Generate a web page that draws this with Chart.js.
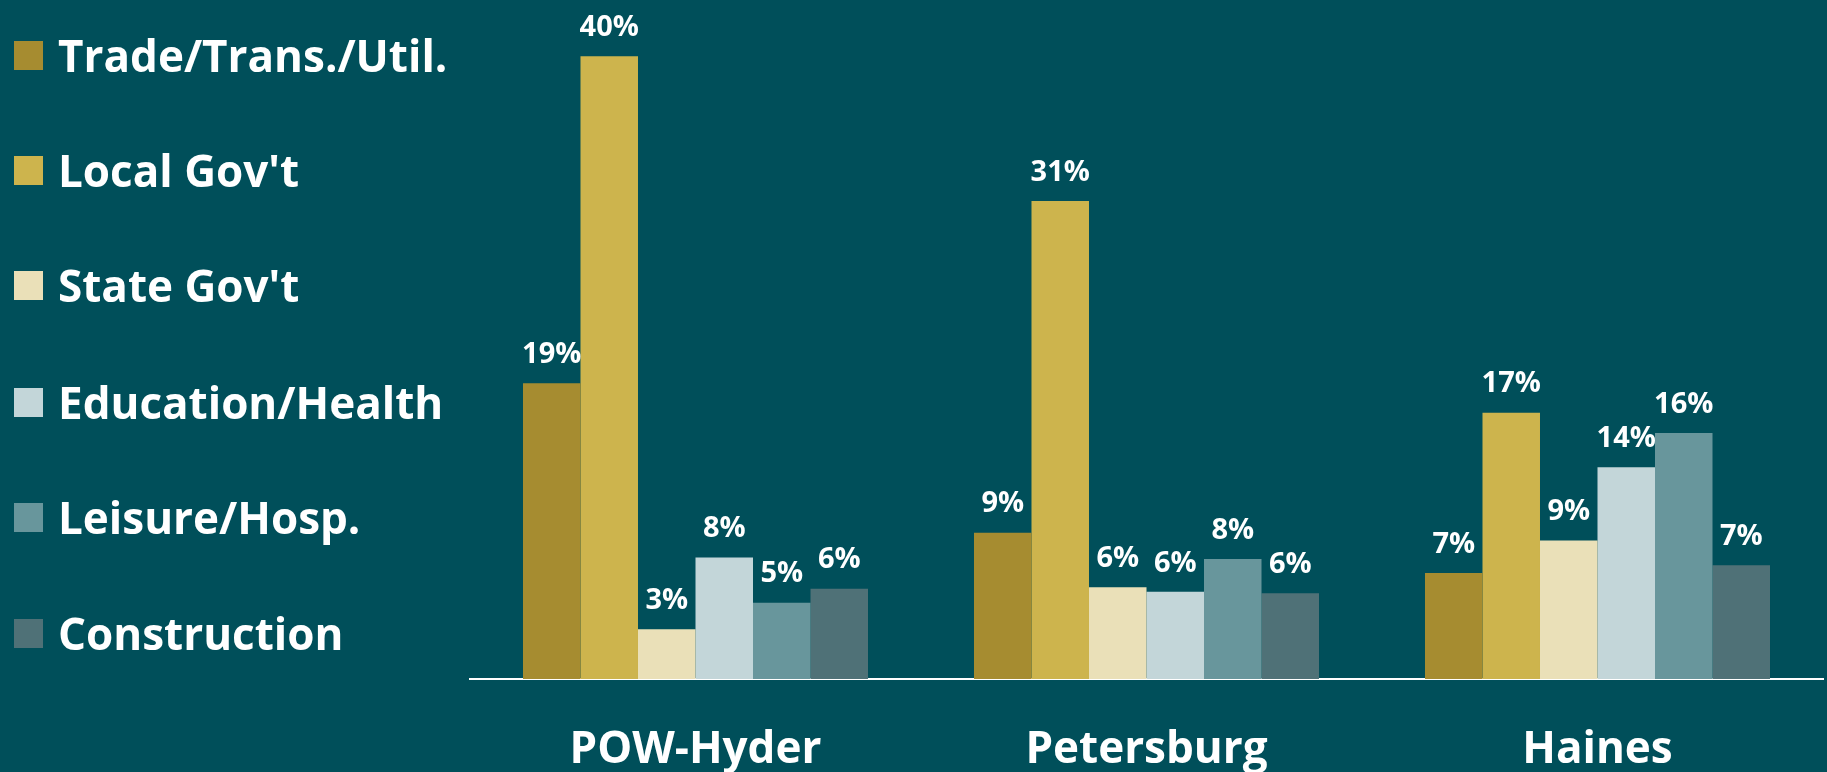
<!DOCTYPE html>
<html>
<head>
<meta charset="utf-8">
<script src="https://cdn.jsdelivr.net/npm/chart.js@4.4.1/dist/chart.umd.min.js"></script>
<style>
  html, body { margin: 0; padding: 0; background: #004f5a; overflow: hidden; }
  #wrap { position: relative; width: 1827px; height: 772px; }
  #chart { position: absolute; left: 0; top: 0; }
  #legend { position: absolute; left: 14px; top: 0; font-family: 'Open Sans', sans-serif; font-weight: bold; color: #fff; }
  .lg-item { position: absolute; left: 0; height: 60px; display: flex; align-items: center; white-space: nowrap; font-size: 44px; }
  .lg-box { width: 29px; height: 29px; margin-right: 15px; flex: none; }
</style>
</head>
<body>
<div id="wrap">
  <canvas id="chart" width="1827" height="772"></canvas>
  <div id="legend"></div>
</div>
<script>
  const regions = ['POW-Hyder', 'Petersburg', 'Haines'];

  const tradeTrans = [19, 9.4, 6.8];
  const localGov = [40, 30.7, 17.1];
  const stateGov = [3.2, 5.9, 8.9];
  const eduHealth = [7.8, 5.6, 13.6];
  const leisureHosp = [4.9, 7.7, 15.8];
  const construction = [5.8, 5.5, 7.3];

  const seriesNames = ['Trade/Trans./Util.', "Local Gov't", "State Gov't", 'Education/Health', 'Leisure/Hosp.', 'Construction'];
  const seriesColors = ['#a68c30', '#cdb44d', '#eae0b8', '#c3d6d9', '#68969c', '#4f7177'];
  const seriesValues = [tradeTrans, localGov, stateGov, eduHealth, leisureHosp, construction];

  const FONT = "'Open Sans', sans-serif";

  // value labels over each bar
  const barLabels = {
    id: 'barLabels',
    afterDatasetsDraw(chart) {
      const ctx = chart.ctx;
      ctx.save();
      ctx.fillStyle = '#ffffff';
      ctx.font = 'bold 29px ' + FONT;
      ctx.textAlign = 'center';
      ctx.textBaseline = 'bottom';
      chart.data.datasets.forEach(function(ds, i) {
        const meta = chart.getDatasetMeta(i);
        meta.data.forEach(function(bar, j) {
          ctx.fillText(Math.round(ds.data[j]) + '%', bar.x, bar.y - 14);
        });
      });
      ctx.restore();
    }
  };

  const datasets = seriesNames.map(function(name, i) {
    return {
      label: name,
      data: seriesValues[i],
      backgroundColor: seriesColors[i],
      borderWidth: 0,
      categoryPercentage: 0.765,
      barPercentage: 1.0
    };
  });

  const chart = new Chart(document.getElementById('chart'), {
    type: 'bar',
    data: { labels: regions, datasets: datasets },
    options: {
      responsive: false,
      animation: false,
      layout: { padding: { left: 470, right: 4, top: 25, bottom: 0 } },
      plugins: {
        legend: { display: false },
        tooltip: { enabled: false }
      },
      scales: {
        x: {
          grid: { display: false, drawTicks: false },
          border: { display: true, color: '#ffffff', width: 2 },
          ticks: {
            color: '#ffffff',
            padding: 45,
            maxRotation: 0,
            font: { family: FONT, size: 44, weight: 'bold' }
          },
          afterFit(scale) {
            scale.height = 93;
          }
        },
        y: {
          display: false,
          min: 0,
          max: 42
        }
      }
    },
    plugins: [barLabels]
  });

  // legend built from the chart datasets
  const legendEl = document.getElementById('legend');
  const legendY = [55, 170, 285, 402, 517, 633];
  chart.data.datasets.forEach(function(ds, i) {
    const item = document.createElement('div');
    item.className = 'lg-item';
    item.style.top = (legendY[i] - 30) + 'px';
    const box = document.createElement('span');
    box.className = 'lg-box';
    box.style.background = ds.backgroundColor;
    const txt = document.createElement('span');
    txt.textContent = ds.label;
    item.appendChild(box);
    item.appendChild(txt);
    legendEl.appendChild(item);
  });
</script>
</body>
</html>
